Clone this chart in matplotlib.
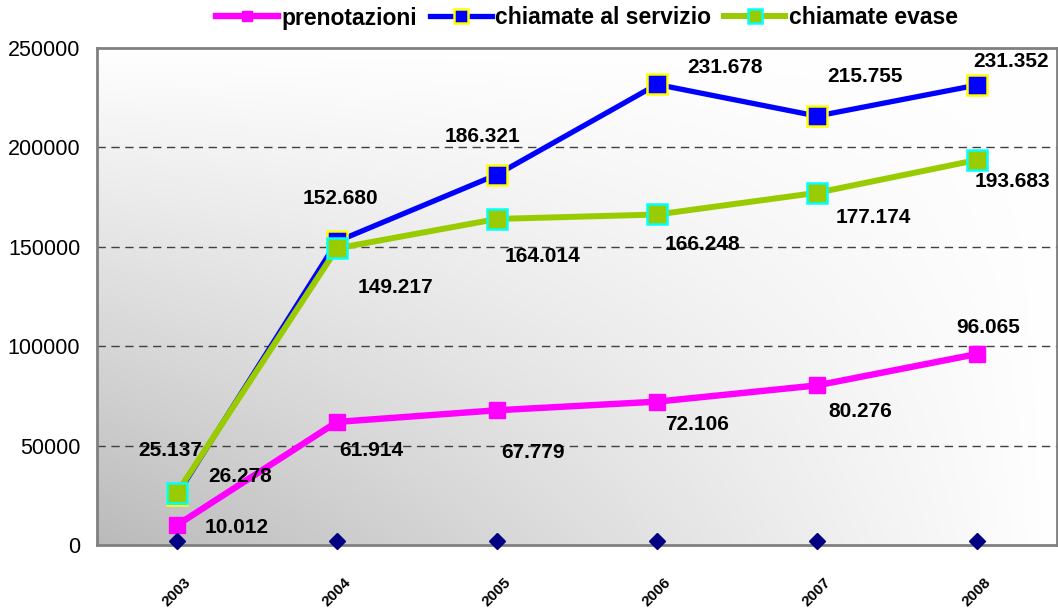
import numpy as np
import matplotlib.pyplot as plt

years = ['2003', '2004', '2005', '2006', '2007', '2008']
prenotazioni = [10012, 61914, 67779, 72106, 80276, 96065]
chiamate_servizio = [25137, 152680, 186321, 231678, 215755, 231352]
chiamate_evase = [26278, 149217, 164014, 166248, 177174, 193683]
base = [2000, 2000, 2000, 2000, 2000, 2000]

# label offsets in pixels (dx, dy) relative to each point
off_pren = [(60, -2), (34, -29), (36, -42), (40, -23), (43, -26), (11, 27)]
off_serv = [(-7, 45), (3, 43), (-15, 38), (68, 17), (48, 40), (34, 24)]
off_evas = [(63, 16), (58, -39), (45, -38), (45, -30), (56, -25), (35, -22)]


def fmt(v):
    return f"{v:,}".replace(",", ".")


def main():
    plt.rcParams['font.family'] = ['Liberation Sans', 'DejaVu Sans']
    fig = plt.figure(figsize=(10.58, 6.12), dpi=100)
    ax = fig.add_axes([97 / 1058, 67 / 612, 960 / 1058, 497 / 612])

    x = np.arange(len(years))
    ax.set_xlim(-0.5, len(years) - 0.5)
    ax.set_ylim(0, 250000)

    # gradient background: dark bottom-left, white top and right
    xx, yy = np.meshgrid(np.linspace(0, 1, 200), np.linspace(0, 1, 200))
    shade = 1 - 0.27 * (1 - yy) * (1 - xx)
    img = np.dstack([shade, shade, shade])
    ax.imshow(img, extent=[-0.5, len(years) - 0.5, 0, 250000], origin='lower',
              aspect='auto', zorder=0)

    for yv in [50000, 100000, 150000, 200000]:
        ax.axhline(yv, color='#404040', lw=1, ls=(0, (6, 4)), zorder=1)

    ax.plot(x, chiamate_servizio, color='#0000ff', lw=3.8, marker='s', ms=15,
            mfc='#0000ff', mec='#ffff00', mew=1.8, zorder=3, label='chiamate al servizio')
    ax.plot(x, chiamate_evase, color='#99cc00', lw=4.3, marker='s', ms=15,
            mfc='#99cc00', mec='#00ffff', mew=1.8, zorder=4, label='chiamate evase')
    ax.plot(x, prenotazioni, color='#ff00ff', lw=4.6, marker='s', ms=11,
            mfc='#ff00ff', mec='#ff00ff', zorder=5, label='prenotazioni')
    ax.plot(x, base, ls='none', marker='D', ms=8, color='#000080', zorder=6,
            clip_on=False)

    for vals, offs in [(prenotazioni, off_pren), (chiamate_servizio, off_serv),
                       (chiamate_evase, off_evas)]:
        for i, v in enumerate(vals):
            ax.annotate(fmt(v), (x[i], v), xytext=offs[i], textcoords='offset pixels',
                        ha='center', va='center', fontsize=15, fontweight='bold',
                        zorder=7)

    ax.set_xticks(x)
    ax.set_xticklabels(years, rotation=45, fontsize=11, fontweight='bold',
                       ha='center')
    ax.tick_params(axis='x', length=0, pad=22)
    ax.set_yticks([0, 50000, 100000, 150000, 200000, 250000])
    ax.set_yticklabels(['0', '50000', '100000', '150000', '200000', '250000'])
    ax.tick_params(axis='y', length=0, labelsize=15.5, pad=12)

    for s in ax.spines.values():
        s.set_color('#808080')
        s.set_linewidth(2)

    h, l = ax.get_legend_handles_labels()
    order = [2, 0, 1]
    fig.legend([h[i] for i in order], [l[i] for i in order], loc='center',
               bbox_to_anchor=(587 / 1058, 1 - 18 / 612), ncol=3, frameon=False,
               prop={'weight': 'bold', 'size': 16.5}, handlelength=2.7,
               handletextpad=0.15, columnspacing=0.55, markerscale=0.67)

    plt.savefig('out.png')


if __name__ == "__main__":
    main()
